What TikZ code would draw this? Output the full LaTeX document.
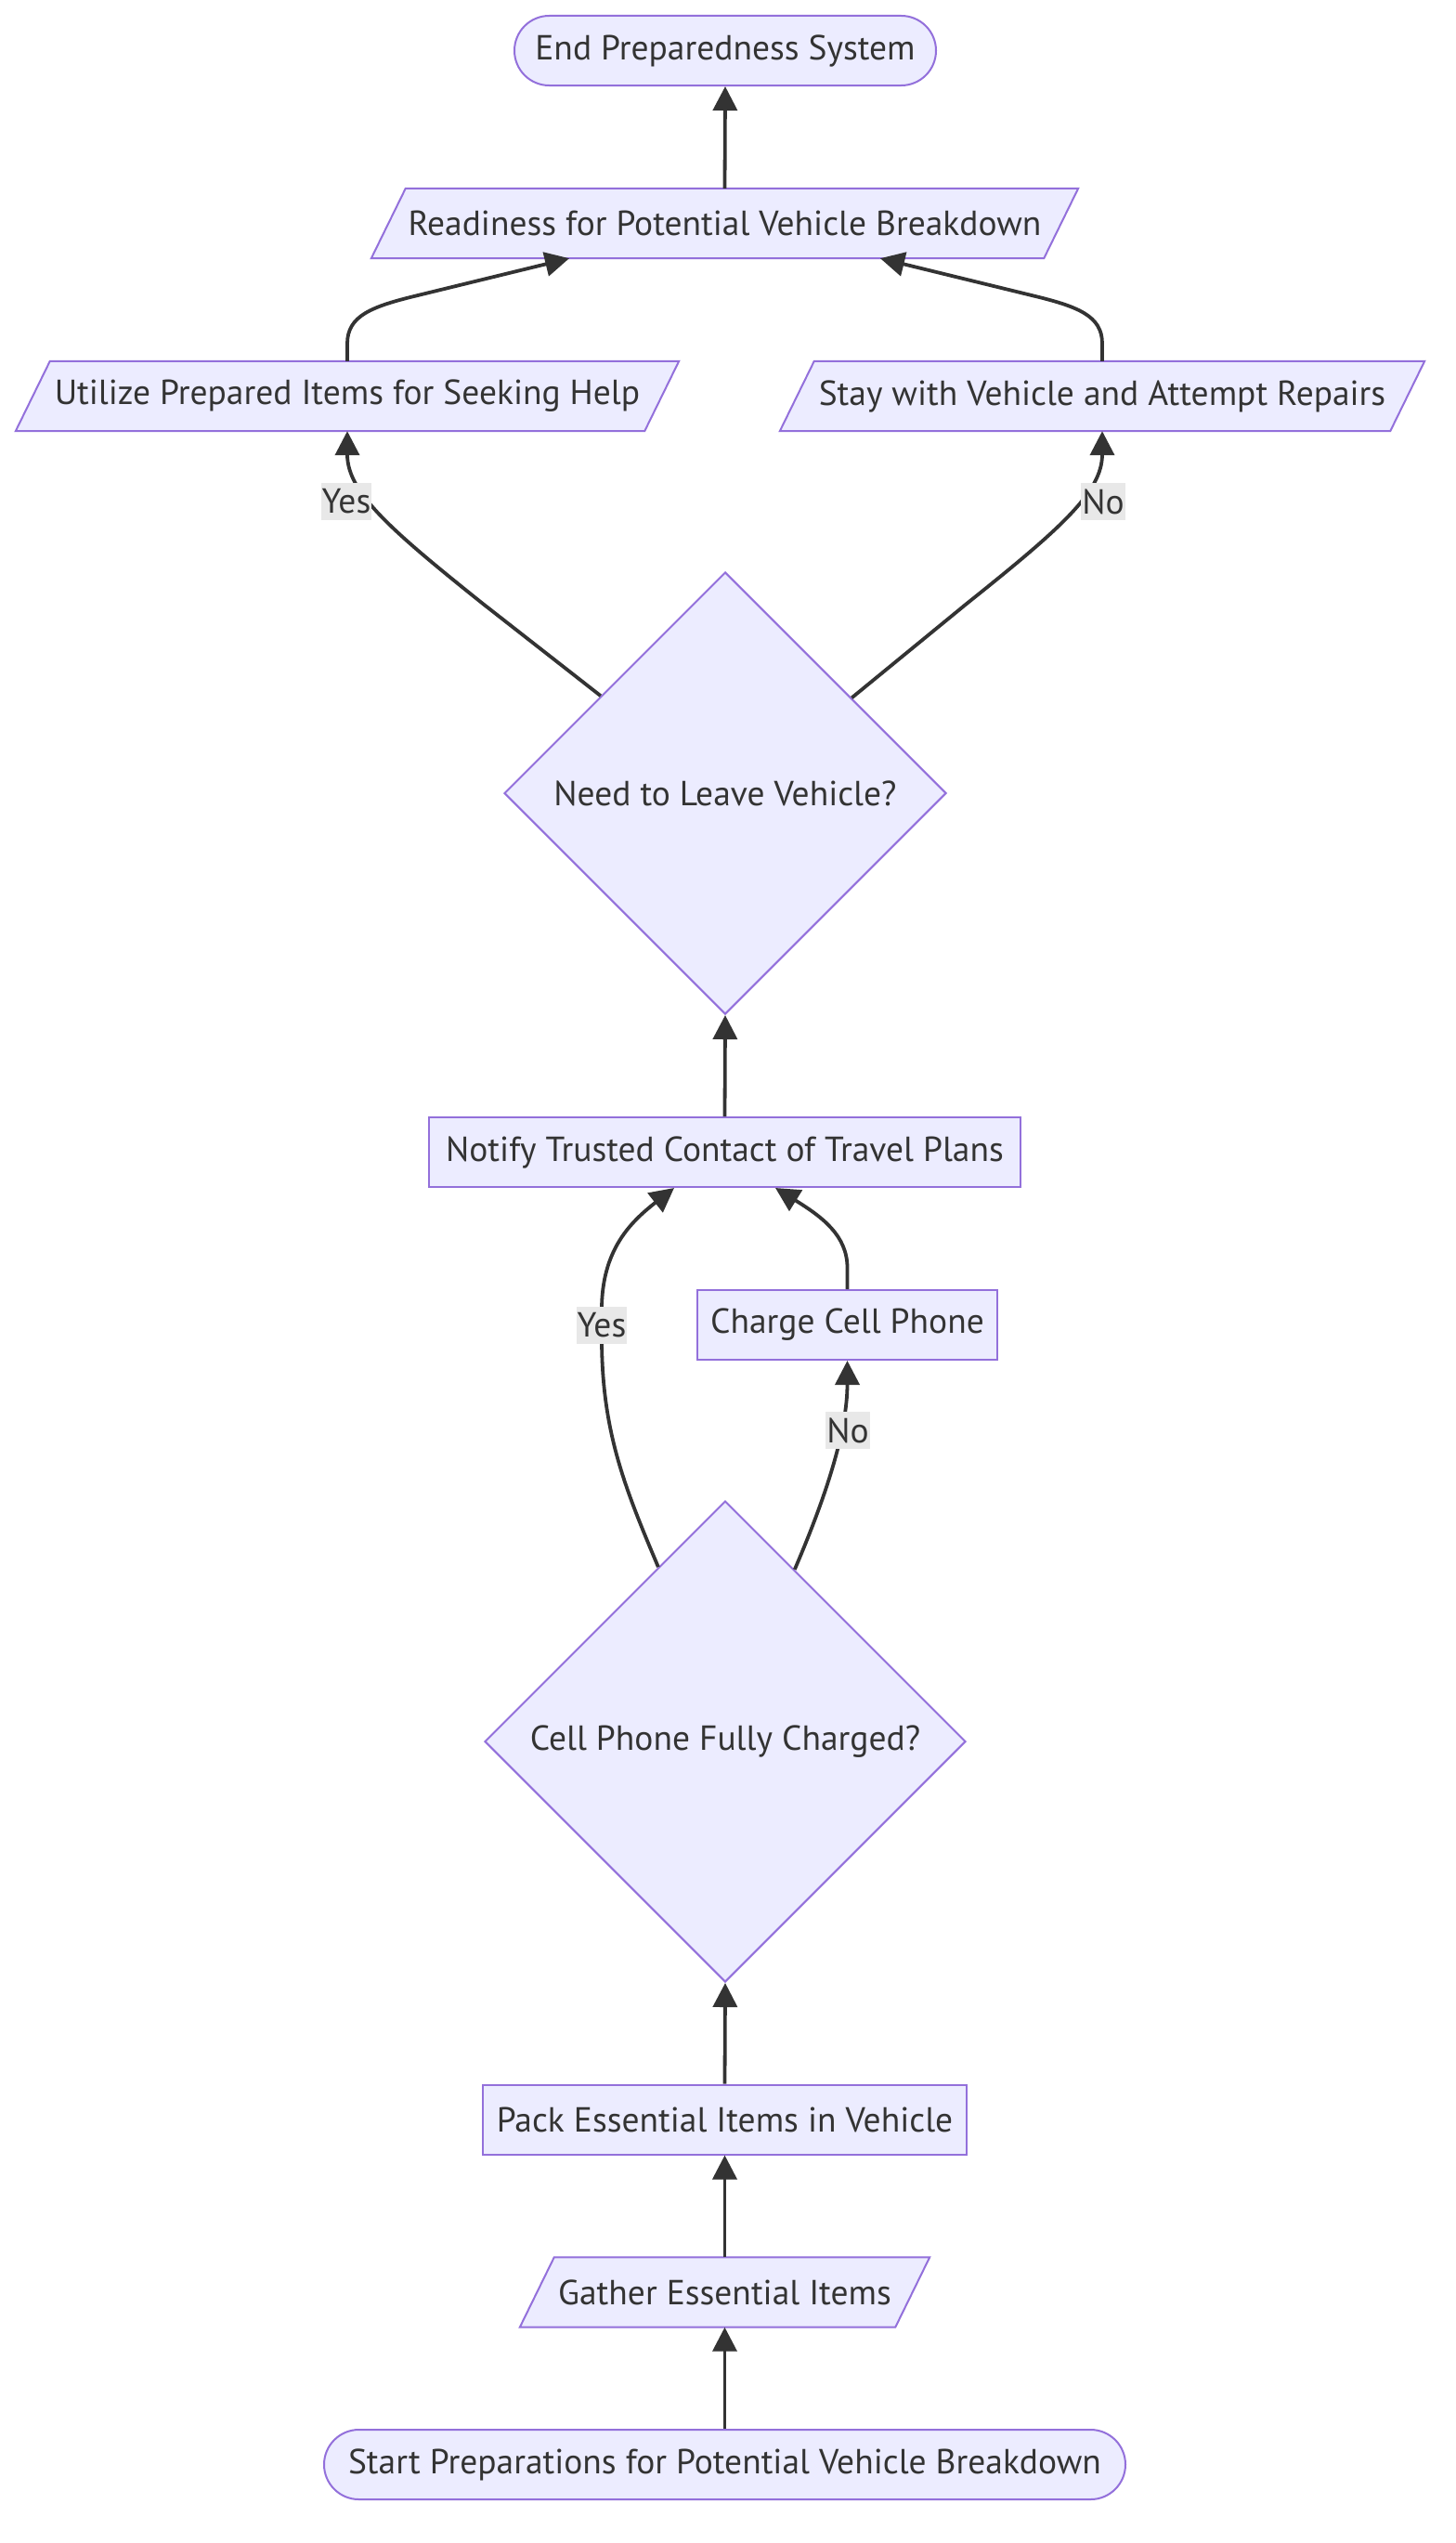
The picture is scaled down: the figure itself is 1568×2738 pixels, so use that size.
\documentclass[tikz,border=0pt]{standalone}
\usepackage{fontspec}
\setmainfont{PT Sans}
\usetikzlibrary{arrows.meta,shapes.geometric,backgrounds}
\definecolor{nfill}{HTML}{ECECFF}
\definecolor{nstroke}{HTML}{9370DB}
\definecolor{lc}{HTML}{333333}
\definecolor{lblbg}{HTML}{E8E8E8}
\newcommand\nodefont{\fontsize{37.5}{45}\selectfont}
\begin{document}
\begin{tikzpicture}[x=1pt,y=-1pt,
  base/.style={inner sep=0pt, minimum height=75pt, text=lc, font=\nodefont},
  box/.style={base, draw=nstroke, fill=nfill, line width=2pt},
  pill/.style={box, rounded corners=37.5pt},
  paratext/.style={base},
  dec/.style={shape=diamond, draw=nstroke, fill=nfill, line width=2pt, inner sep=0pt, text=lc, font=\nodefont},
  paraline/.style={draw=nstroke, fill=nfill, line width=2pt},
  conn/.style={draw=lc, line width=3.8pt, -{Triangle[length=26pt,width=26pt]}},
  lbl/.style={fill=lblbg, text=lc, font=\nodefont, inner xsep=1pt, inner ysep=0pt, minimum height=40pt}
]
\useasboundingbox (0,0) rectangle (1568,2738);

\node[pill, minimum width=454pt] (endn) at (781,54.5) {End Preparedness System};
\node[paratext, minimum width=761pt] (ready) at (780.5,240.5) {Readiness for Potential Vehicle Breakdown};
\node[paratext, minimum width=714pt] (util) at (374,426.5) {Utilize Prepared Items for Seeking Help};
\node[paratext, minimum width=694pt] (stay) at (1187,426.5) {Stay with Vehicle and Attempt Repairs};
\node[dec, minimum width=476pt, minimum height=476pt] (leave) at (781,854) {Need to Leave Vehicle?};
\node[box, minimum width=637pt] (notify) at (780.5,1240.5) {Notify Trusted Contact of Travel Plans};
\node[box, minimum width=323pt] (charge) at (912.5,1426.5) {Charge Cell Phone};
\node[dec, minimum width=518pt, minimum height=518pt] (cell) at (781,1875) {Cell Phone Fully Charged?};
\node[box, minimum width=521pt] (pack) at (780.5,2282) {Pack Essential Items in Vehicle};
\node[paratext, minimum width=441pt] (gather) at (780.5,2468) {Gather Essential Items};
\node[pill, minimum width=863pt] (start) at (780.5,2653.5) {Start Preparations for Potential Vehicle Breakdown};

\begin{pgfonlayer}{background}
\fill[white] (0,0) rectangle (1568,2738);
\foreach \n in {ready,util,stay,gather}
  \draw[paraline] ([xshift=37pt]\n.north west) -- (\n.north east) -- ([xshift=-37pt]\n.south east) -- (\n.south west) -- cycle;
\end{pgfonlayer}

\draw[conn] (start.north) -- (gather.south);
\draw[conn] (gather.north) -- (pack.south);
\draw[conn] (pack.north) -- (cell.south);
\draw[conn] (cell.111.5) .. controls (672,1600) and (648,1540) .. (648,1440) -- (648,1410) .. controls (648,1345) and (680,1315) .. ([xshift=-54.5pt]notify.south);
\draw[conn] (cell.68) .. controls (890,1610) and (912.5,1540) .. (charge.south);
\draw[conn] (charge.north) -- (912.5,1365) .. controls (912.5,1330) and (885,1310) .. ([xshift=54.5pt]notify.south);
\draw[conn] (notify.north) -- (leave.south);
\draw[conn] (leave.142.7) -- (520,650) .. controls (420,570) and (374,530) .. (util.south);
\draw[conn] (leave.37.3) -- (1041,650) .. controls (1141,570) and (1187,530) .. (stay.south);
\draw[conn] (util.north) -- (374,370) .. controls (374,340) and (400,330) .. (450,318) -- ([xshift=-167.5pt]ready.south);
\draw[conn] (stay.north) -- (1187,370) .. controls (1187,340) and (1161,330) .. (1111,318) -- ([xshift=167.5pt]ready.south);
\draw[conn] (ready.north) -- (endn.south);

\node[lbl] (l1) at (373,540) {Yes};
\node[lbl] (l2) at (1188,540) {No};
\node[lbl] (l3) at (648,1427) {Yes};
\node[lbl] (l4) at (913,1540) {No};
\end{tikzpicture}
\end{document}
